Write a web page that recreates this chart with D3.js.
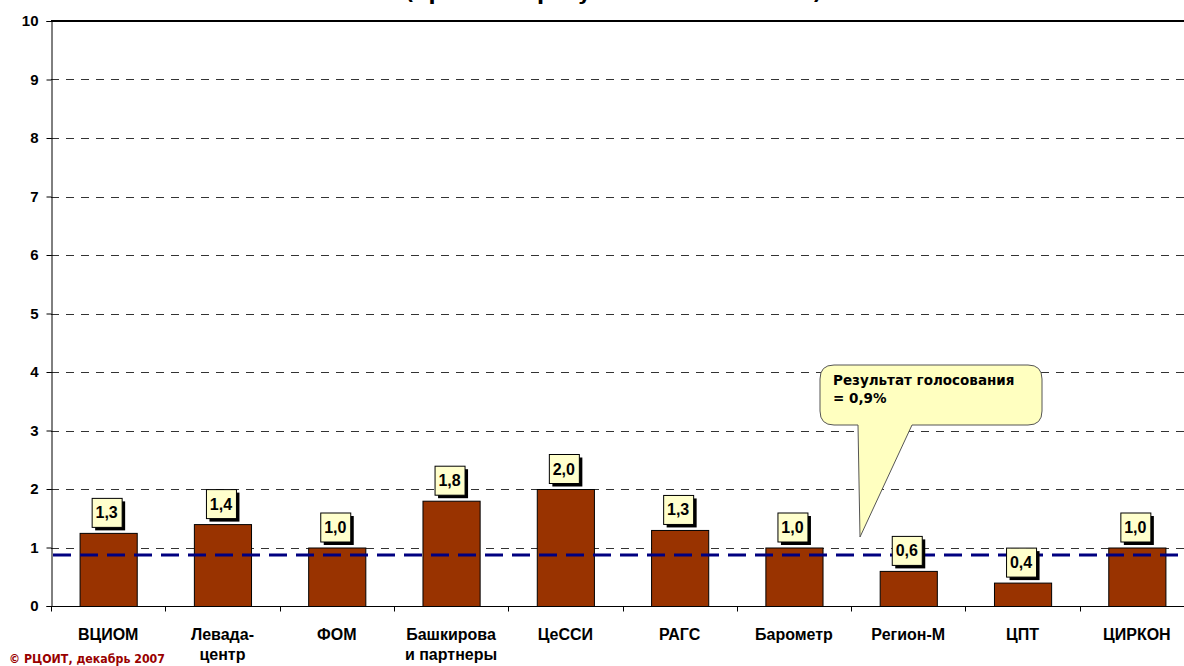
<!DOCTYPE html>
<html><head><meta charset="utf-8">
<script src="https://cdn.jsdelivr.net/npm/d3@7"></script>
<style>html,body{margin:0;padding:0;background:#fff;overflow:hidden}
.ar{font-family:"Liberation Sans",Arial,sans-serif;font-weight:bold}
.dv{font-family:"DejaVu Sans",Verdana,sans-serif;font-weight:bold}</style>
</head><body>
<svg id="c" width="1184" height="666"></svg>
<script>
const categories = ["ВЦИОМ", "Левада-|центр", "ФОМ", "Башкирова|и партнеры", "ЦеССИ", "РАГС", "Барометр", "Регион-М", "ЦПТ", "ЦИРКОН"];
const values = [1.25, 1.4, 1.0, 1.8, 2.0, 1.3, 1.0, 0.6, 0.4, 1.0];
const valueLabels = ["1,3", "1,4", "1,0", "1,8", "2,0", "1,3", "1,0", "0,6", "0,4", "1,0"];
const resultValue = 0.87;
const yTicks = [0, 1, 2, 3, 4, 5, 6, 7, 8, 9, 10];
const calloutLines = ["Результат голосования", "= 0,9%"];
const titleText = "(прогноз и результат голосования)";
const copyrightText = "© РЦОИТ, декабрь 2007";

(function () {
const svg = d3.select("#c");
const mLeft = 51, mRight = 1194, mTop = 21, mBottom = 606;
const x = d3.scaleBand().domain(categories).range([mLeft, mRight]).padding(0.5).paddingOuter(0.25);
const y = d3.scaleLinear().domain([0, 10]).range([mBottom, mTop]);

// title (cut off at the top edge, as in the reference)
svg.append("text").attr("class", "dv").attr("x", 405).attr("y", 0)
  .attr("textLength", 417).attr("lengthAdjust", "spacingAndGlyphs")
  .attr("font-size", 18).text(titleText);

// gridlines
svg.append("g").selectAll("line").data(yTicks.filter(d => d > 0 && d < 10)).join("line")
  .attr("x1", mLeft).attr("x2", 1184).attr("y1", d => Math.round(y(d)) + 0.5).attr("y2", d => Math.round(y(d)) + 0.5)
  .attr("stroke", "#333").attr("stroke-width", 1).attr("stroke-dasharray", "8,7");
svg.append("line").attr("x1", mLeft).attr("x2", 1184).attr("y1", y(10)).attr("y2", y(10))
  .attr("stroke", "#000").attr("stroke-width", 2);

// y axis
const yAxis = svg.append("g").attr("transform", `translate(${mLeft + 0.5},0)`)
  .call(d3.axisLeft(y).tickValues(yTicks).tickSize(5).tickPadding(8).tickFormat(d3.format("d")));
yAxis.attr("font-family", null).attr("font-size", null);
yAxis.select(".domain").attr("stroke", "#000");
yAxis.selectAll(".tick line").attr("stroke", "#000");
yAxis.selectAll("text").attr("class", "ar").attr("font-size", 15).attr("fill", "#000");

// bars
svg.append("g").selectAll("rect").data(values).join("rect")
  .attr("x", (d, i) => x(categories[i]) + 0.5).attr("y", d => y(d) + 0.5)
  .attr("width", x.bandwidth()).attr("height", d => mBottom - y(d))
  .attr("fill", "#993300").attr("stroke", "#000").attr("stroke-width", 1);

// x axis
const xAxis = svg.append("g").attr("transform", `translate(0,${mBottom + 0.5})`);
xAxis.append("line").attr("x1", mLeft).attr("x2", 1184).attr("stroke", "#000");
const bounds = d3.range(categories.length + 1).map(i => mLeft + i * (mRight - mLeft) / categories.length);
xAxis.selectAll(".tk").data(bounds).join("line").attr("class", "tk")
  .attr("x1", d => Math.round(d) + 0.5).attr("x2", d => Math.round(d) + 0.5).attr("y1", 0).attr("y2", 5).attr("stroke", "#000");
xAxis.selectAll(".lbl").data(categories).join("text").attr("class", "ar")
  .attr("text-anchor", "middle").attr("font-size", 16)
  .each(function (d) {
    const t = d3.select(this);
    d.split("|").forEach((ln, k) => {
      t.append("tspan").attr("x", x(d) + x.bandwidth() / 2).attr("y", 33 + k * 20).text(ln);
    });
  });

// result line
svg.append("line").attr("x1", mLeft + 2).attr("x2", 1184).attr("y1", y(resultValue)).attr("y2", y(resultValue))
  .attr("stroke", "#000080").attr("stroke-width", 3).attr("stroke-dasharray", "18,9");

// value labels
const lbl = svg.append("g").selectAll("g").data(values).join("g")
  .attr("transform", (d, i) => `translate(${x(categories[i]) + x.bandwidth() / 2 - 1.5},${y(d) - 6})`);
lbl.append("rect").attr("x", -15 + 3.5).attr("y", -29 + 3.5).attr("width", 30).attr("height", 29).attr("fill", "#000");
lbl.append("rect").attr("x", -15 + 0.5).attr("y", -29 + 0.5).attr("width", 30).attr("height", 29)
  .attr("fill", "#FFFFCC").attr("stroke", "#000").attr("stroke-width", 1);
lbl.append("text").attr("class", "ar").attr("text-anchor", "middle").attr("y", -8.5)
  .attr("font-size", 16).text((d, i) => valueLabels[i]);

// callout
const cx0 = 820, cx1 = 1042, cy0 = 365, cy1 = 425, r = 14;
const p = d3.path();
p.moveTo(cx0 + r, cy0);
p.lineTo(cx1 - r, cy0); p.quadraticCurveTo(cx1, cy0, cx1, cy0 + r);
p.lineTo(cx1, cy1 - r); p.quadraticCurveTo(cx1, cy1, cx1 - r, cy1);
p.lineTo(912, cy1); p.lineTo(860, 537); p.lineTo(858, cy1);
p.lineTo(cx0 + r, cy1); p.quadraticCurveTo(cx0, cy1, cx0, cy1 - r);
p.lineTo(cx0, cy0 + r); p.quadraticCurveTo(cx0, cy0, cx0 + r, cy0);
p.closePath();
svg.append("path").attr("d", p.toString()).attr("fill", "#FFFFC0").attr("stroke", "#555").attr("stroke-width", 1);
svg.append("g").selectAll("text").data(calloutLines).join("text").attr("class", "dv")
  .attr("x", 833).attr("y", (d, i) => 385 + i * 18)
  .attr("font-size", 13.5).attr("fill", "#000").text(d => d);

// copyright
svg.append("text").attr("class", "dv").attr("x", 9).attr("y", 663).attr("textLength", 156).attr("lengthAdjust", "spacingAndGlyphs")
  .attr("font-size", 11.5).attr("fill", "#990000").text(copyrightText);
})();
</script>
</body></html>
